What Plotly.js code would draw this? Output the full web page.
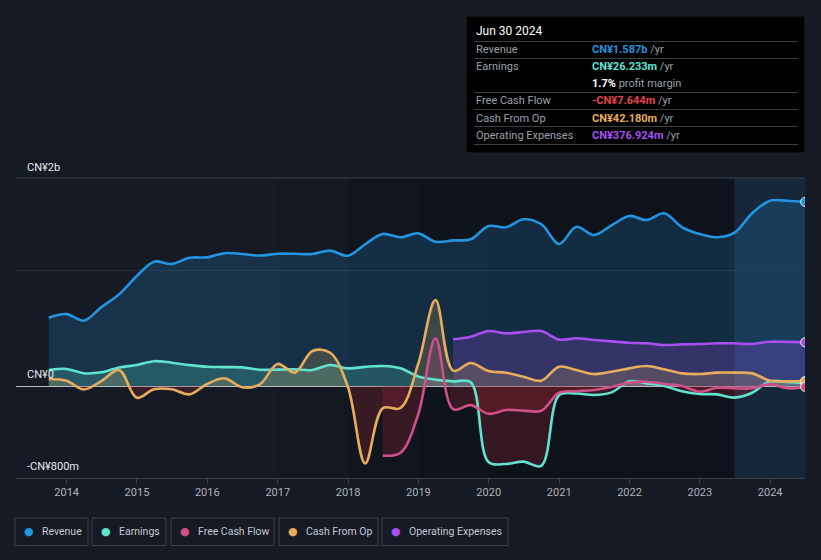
<!DOCTYPE html>
<html>
<head>
<meta charset="utf-8">
<script src="https://cdn.plot.ly/plotly-3.0.1.min.js"></script>
<style>
  html, body { margin: 0; padding: 0; background: #151a24; }
  #chart { width: 821px; height: 560px; }
</style>
</head>
<body>
<div id="chart"></div>
<script>
// ---------- DATA (CN¥ millions, trailing twelve months, quarterly) ----------
const dates = [
  '2013-09-30','2013-12-31',
  '2014-03-31','2014-06-30','2014-09-30','2014-12-31',
  '2015-03-31','2015-06-30','2015-09-30','2015-12-31',
  '2016-03-31','2016-06-30','2016-09-30','2016-12-31',
  '2017-03-31','2017-06-30','2017-09-30','2017-12-31',
  '2018-03-31','2018-06-30','2018-09-30','2018-12-31',
  '2019-03-31','2019-06-30','2019-09-30','2019-12-31',
  '2020-03-31','2020-06-30','2020-09-30','2020-12-31',
  '2021-03-31','2021-06-30','2021-09-30','2021-12-31',
  '2022-03-31','2022-06-30','2022-09-30','2022-12-31',
  '2023-03-31','2023-06-30','2023-09-30','2023-12-31',
  '2024-03-31','2024-06-30'
];
const revenue = [589,620, 563,680,790,948, 1072,1052,1105,1109, 1145,1138,1125,1140,
  1140,1138,1167,1123, 1222,1310,1282,1316, 1244,1255,1265,1379, 1368,1437,1395,1224,
  1373,1302,1385,1466, 1431,1489,1370,1310, 1282,1322,1490,1597, 1597,1587];
const earnings = [138,147, 110,118,160,181, 214,201,180,166, 163,161,140,141,
  143,138,181,152, 165,172,153,82, 55,40,32,-655, -672,-652,-688,-80,
  -65,-78,-55,40, 23,0,-45,-69, -72,-100,-58,40, 35,26.233];
const cashFromOp = [60,46, -30,43,138,-101, -28,-28,-72,17, 66,-11,15,190,
  115,302,287,-8, -667,-192,-190,190, 741,132,198,129, 115,80,46,166,
  138,103,123,152, 172,144,109,103, 115,115,109,46, 40,42.18];
// Free cash flow starts 2018-06-30
const freeCashFlow = [-600,-575,-245, 411,-200,-165,-240, -207,-212,-213,-58,
  -45,-34,-8,28, 37,17,0,-49, -15,-20,-20,15, -20,-7.644];
// Operating expenses start 2019-06-30
const operatingExpenses = [403,425,474, 454,466,474,400, 411,397,385,373,
  368,353,359,362, 368,368,362,382, 380,376.924];

const legendLabels = ['Revenue','Earnings','Free Cash Flow','Cash From Op','Operating Expenses'];
const xTickYears = ['2014','2015','2016','2017','2018','2019','2020','2021','2022','2023','2024'];

// ---------- STYLE ----------
const C = {
  rev: '#2394df', earn: '#5fe3cf', fcf: '#d1508a', cfo: '#e8ad5c', opex: '#a84ff0',
  bg: '#151a24', grid: '#3a3f48', text: '#b6bbc3'
};
const FONT = 'Roboto, "Open Sans", sans-serif';

const toMs = d => Date.parse(d + 'T00:00:00Z');
const xAll = dates.map(toMs);
const xFcf = xAll.slice(xAll.length - freeCashFlow.length);
const xOpex = xAll.slice(xAll.length - operatingExpenses.length);

// split a series into positive / negative parts, inserting zero crossings
function splitSign(xs, ys) {
  const px = [], py = [], nx = [], ny = [];
  for (let i = 0; i < xs.length; i++) {
    if (i > 0) {
      const y0 = ys[i-1], y1 = ys[i];
      if ((y0 > 0 && y1 < 0) || (y0 < 0 && y1 > 0)) {
        const t = y0 / (y0 - y1);
        const xc = xs[i-1] + t * (xs[i] - xs[i-1]);
        px.push(xc); py.push(0); nx.push(xc); ny.push(0);
      }
    }
    px.push(xs[i]); py.push(Math.max(ys[i], 0));
    nx.push(xs[i]); ny.push(Math.min(ys[i], 0));
  }
  return { px, py, nx, ny };
}

const NEG = 'rgba(170,40,55,0.25)';
function fillTraces(xs, ys, posColor) {
  const s = splitSign(xs, ys);
  return [
    { x: s.px, y: s.py, type: 'scatter', mode: 'lines', line: { width: 0, shape: 'spline', smoothing: 0.6 },
      fill: 'tozeroy', fillcolor: posColor, hoverinfo: 'skip', showlegend: false },
    { x: s.nx, y: s.ny, type: 'scatter', mode: 'lines', line: { width: 0, shape: 'spline', smoothing: 0.6 },
      fill: 'tozeroy', fillcolor: NEG, hoverinfo: 'skip', showlegend: false }
  ];
}
function lineTrace(xs, ys, color, name) {
  return { x: xs, y: ys, name, type: 'scatter', mode: 'lines',
    line: { color, width: 2.6, shape: 'spline', smoothing: 1 }, showlegend: false };
}
function endMarker(xs, ys, color) {
  return { x: [xs[xs.length-1]], y: [ys[ys.length-1]], type: 'scatter', mode: 'markers',
    marker: { color, size: 9, line: { color: '#e8ecf2', width: 1 } }, showlegend: false, hoverinfo: 'skip' };
}

const traces = [
  { x: xAll, y: revenue, type: 'scatter', mode: 'lines', line: { width: 0, shape: 'spline' },
    fill: 'tozeroy', fillcolor: 'rgba(35,148,223,0.2)', hoverinfo: 'skip', showlegend: false },
  { x: xOpex, y: operatingExpenses, type: 'scatter', mode: 'lines', line: { width: 0, shape: 'spline' },
    fill: 'tozeroy', fillcolor: 'rgba(168,79,240,0.22)', hoverinfo: 'skip', showlegend: false },
  ...fillTraces(xAll, earnings, 'rgba(95,227,207,0.22)'),
  ...fillTraces(xAll, cashFromOp, 'rgba(232,173,92,0.2)'),
  ...fillTraces(xFcf, freeCashFlow, 'rgba(209,80,138,0.2)'),
  lineTrace(xAll, revenue, C.rev, legendLabels[0]),
  lineTrace(xOpex, operatingExpenses, C.opex, legendLabels[4]),
  lineTrace(xAll, earnings, C.earn, legendLabels[1]),
  lineTrace(xAll, cashFromOp, C.cfo, legendLabels[3]),
  lineTrace(xFcf, freeCashFlow, C.fcf, legendLabels[2]),
  endMarker(xAll, revenue, C.rev),
  endMarker(xOpex, operatingExpenses, C.opex),
  endMarker(xAll, earnings, C.earn),
  endMarker(xAll, cashFromOp, C.cfo),
  endMarker(xFcf, freeCashFlow, C.fcf)
];

// ---------- LAYOUT ----------
const W = 821, H = 560, L = 16, R = 16, T = 178, B = 82;
const pw = W - L - R, ph = H - T - B;
const px2x = p => (p - L) / pw;
const py2y = p => (H - B - p) / ph;

const lastYearStart = '2023-06-30';
const shapes = [];
// darkening gradient over the middle period
['2017-01-01','2018-01-01','2019-01-01','2020-01-01'].forEach(s => {
  shapes.push({ type: 'rect', layer: 'below', xref: 'x', yref: 'paper', x0: s, x1: lastYearStart, y0: 0, y1: 1,
    fillcolor: 'rgba(0,0,0,0.065)', line: { width: 0 } });
});
// last-year highlight
shapes.push({ type: 'rect', layer: 'below', xref: 'x', yref: 'paper', x0: lastYearStart, x1: '2024-07-15', y0: 0, y1: 1,
  fillcolor: 'rgba(30,100,160,0.18)', line: { width: 0 } });
// top line
shapes.push({ type: 'line', xref: 'paper', yref: 'paper', x0: 0, x1: 1, y0: 1, y1: 1, line: { color: C.grid, width: 1 } });

// tooltip box
shapes.push({ type: 'rect', xref: 'paper', yref: 'paper', x0: px2x(466), x1: px2x(805), y0: py2y(153), y1: py2y(16),
  fillcolor: '#000000', line: { color: '#1e232b', width: 1 } });
[41.5, 58.5, 92.5, 109.5, 126.5, 144.5].forEach(yy => {
  shapes.push({ type: 'line', xref: 'paper', yref: 'paper', x0: px2x(474), x1: px2x(798), y0: py2y(yy), y1: py2y(yy),
    line: { color: '#3a3d42', width: 1 } });
});

const annotations = [];
// y labels
[['CN¥2b', 167], ['CN¥0', 374], ['-CN¥800m', 466]].forEach(([t, yy]) => {
  annotations.push({ text: t, xref: 'paper', yref: 'paper', x: px2x(25), y: py2y(yy), xanchor: 'left', yanchor: 'middle',
    showarrow: false, font: { family: FONT, size: 11, color: '#e6e9ee' } });
});

// tooltip text
const tipLabel = '#9ba1aa';
annotations.push({ text: 'Jun 30 2024', xref: 'paper', yref: 'paper', x: px2x(474), y: py2y(31), xanchor: 'left', yanchor: 'middle',
  showarrow: false, font: { family: FONT, size: 12, color: '#ffffff' } });
const rows = [
  ['Revenue', '<b>CN¥1.587b</b>', C.rev, ' /yr', 49],
  ['Earnings', '<b>CN¥26.233m</b>', C.earn, ' /yr', 66],
  ['', '<b>1.7%</b>', '#ffffff', ' profit margin', 83],
  ['Free Cash Flow', '<b>-CN¥7.644m</b>', '#e5434a', ' /yr', 100],
  ['Cash From Op', '<b>CN¥42.180m</b>', C.cfo, ' /yr', 118],
  ['Operating Expenses', '<b>CN¥376.924m</b>', C.opex, ' /yr', 135]
];
rows.forEach(([lab, val, col, suf, yy]) => {
  if (lab) annotations.push({ text: lab, xref: 'paper', yref: 'paper', x: px2x(474), y: py2y(yy), xanchor: 'left', yanchor: 'middle',
    showarrow: false, font: { family: FONT, size: 11, color: tipLabel } });
  annotations.push({ text: '<span style="color:' + col + '">' + val + '</span><span style="color:' + tipLabel + '">' + suf + '</span>',
    xref: 'paper', yref: 'paper', x: px2x(590), y: py2y(yy), xanchor: 'left', yanchor: 'middle',
    showarrow: false, font: { family: FONT, size: 11, color: tipLabel } });
});

// legend boxes
const legendColors = [C.rev, C.earn, C.fcf, C.cfo, C.opex];
const legendBoxes = [[15, 88], [92, 166], [171, 274], [279, 378], [382, 508]];
legendBoxes.forEach(([a, b], i) => {
  shapes.push({ type: 'rect', xref: 'paper', yref: 'paper', x0: px2x(a), x1: px2x(b), y0: py2y(545.5), y1: py2y(518),
    fillcolor: 'rgba(0,0,0,0)', line: { color: '#3a3f4a', width: 1 } });
  annotations.push({ text: '<span style="color:' + legendColors[i] + '">●</span>', xref: 'paper', yref: 'paper',
    x: px2x(a + 14), y: py2y(531), xanchor: 'center', yanchor: 'middle', showarrow: false,
    font: { family: 'DejaVu Sans', size: 11, color: legendColors[i] } });
  annotations.push({ text: legendLabels[i], xref: 'paper', yref: 'paper', x: px2x(a + 25), y: py2y(531),
    xanchor: 'left', yanchor: 'middle', showarrow: false, font: { family: FONT, size: 10.5, color: '#c3c8d0' } });
});

const layout = {
  width: W, height: H,
  margin: { l: L, r: R, t: T, b: B, pad: 0 },
  paper_bgcolor: C.bg, plot_bgcolor: C.bg,
  showlegend: false,
  font: { family: FONT, color: C.text },
  xaxis: {
    type: 'date', range: ['2013-04-13', '2024-06-30'],
    tickvals: xTickYears.map(y => y + '-01-01'), ticktext: xTickYears,
    showgrid: false, zeroline: false,
    showline: true, linecolor: C.grid, linewidth: 1,
    ticks: 'outside', ticklen: 4, tickcolor: C.grid,
    tickfont: { family: FONT, size: 11, color: '#aeb3bb' }, fixedrange: true
  },
  yaxis: {
    range: [-793, 1793], tickvals: [1000], showticklabels: false,
    showgrid: true, gridcolor: '#252b35', gridwidth: 1,
    zeroline: true, zerolinecolor: '#b9bdc3', zerolinewidth: 1, fixedrange: true
  },
  shapes, annotations
};

Plotly.newPlot('chart', traces, layout, { displayModeBar: false, staticPlot: true });
</script>
</body>
</html>
